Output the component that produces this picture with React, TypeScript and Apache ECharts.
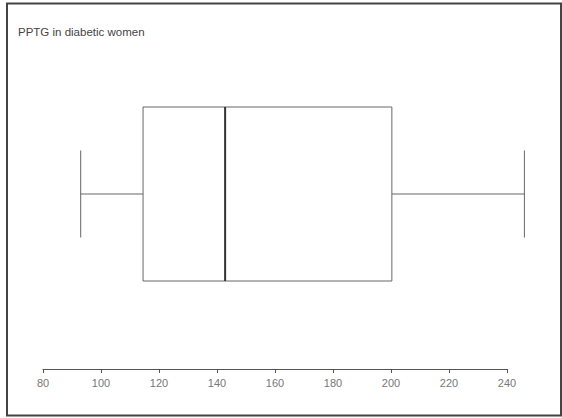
import React, { useEffect, useRef } from "react";
import * as echarts from "echarts";

const title = "PPTG in diabetic women";
const boxStats = [[93, 114.5, 142.8, 200.3, 246]]; // min, Q1, median, Q3, max
const axisTicks = [80, 100, 120, 140, 160, 180, 200, 220, 240];

export default function App() {
  const ref = useRef<HTMLDivElement>(null);
  useEffect(() => {
    const chart = echarts.init(ref.current!, null, { renderer: "svg" });
    chart.setOption({
      animation: false,
      backgroundColor: "#ffffff",
      title: {
        text: title,
        left: 18,
        top: 26,
        padding: 0,
        textStyle: { fontFamily: "Liberation Sans", fontSize: 11.5, fontWeight: "normal", color: "#444" },
      },
      graphic: [
        {
          type: "rect",
          shape: { x: 7, y: 3.5, width: 554, height: 412 },
          style: { fill: "none", stroke: "#444", lineWidth: 2 },
          silent: true,
        },
      ],
      grid: [
        { left: 43, right: 55, top: 300, height: 69 },
        { left: 43, right: 26, top: 107, height: 174 },
      ],
      xAxis: [
        {
          gridIndex: 0,
          type: "value",
          min: axisTicks[0],
          max: axisTicks[axisTicks.length - 1],
          interval: 20,
          position: "bottom",
          axisLine: { show: true, lineStyle: { color: "#555", width: 1 } },
          axisTick: { show: true, length: 4, lineStyle: { color: "#555" } },
          axisLabel: { color: "#777", fontSize: 11, fontFamily: "Liberation Sans", margin: 8 },
          splitLine: { show: false },
        },
        {
          gridIndex: 1,
          type: "value",
          min: 80,
          max: 250,
          show: false,
        },
      ],
      yAxis: [
        { gridIndex: 0, type: "value", show: false, min: 0, max: 1 },
        { gridIndex: 1, type: "value", show: false, min: 0, max: 1 },
      ],
      series: [
        {
          type: "custom",
          xAxisIndex: 1,
          yAxisIndex: 1,
          data: boxStats,
          renderItem: (params: any, api: any) => {
            const mn = api.value(0), q1 = api.value(1), md = api.value(2), q3 = api.value(3), mx = api.value(4);
            const pTL = api.coord([q1, 1]);
            const pBR = api.coord([q3, 0]);
            const mTop = api.coord([md, 1]);
            const mBot = api.coord([md, 0]);
            const wL = api.coord([mn, 0.5]);
            const wR = api.coord([mx, 0.5]);
            const capLT = api.coord([mn, 0.75]);
            const capLB = api.coord([mn, 0.25]);
            const capRT = api.coord([mx, 0.75]);
            const capRB = api.coord([mx, 0.25]);
            const stroke = { stroke: "#666", lineWidth: 1, fill: "none" };
            return {
              type: "group",
              children: [
                { type: "rect", shape: { x: pTL[0], y: pTL[1], width: pBR[0] - pTL[0], height: pBR[1] - pTL[1] }, style: { ...stroke } },
                { type: "line", shape: { x1: mTop[0], y1: mTop[1], x2: mBot[0], y2: mBot[1] }, style: { stroke: "#333", lineWidth: 2 } },
                { type: "line", shape: { x1: wL[0], y1: wL[1], x2: pTL[0], y2: wL[1] }, style: { ...stroke } },
                { type: "line", shape: { x1: pBR[0], y1: wR[1], x2: wR[0], y2: wR[1] }, style: { ...stroke } },
                { type: "line", shape: { x1: capLT[0], y1: capLT[1], x2: capLB[0], y2: capLB[1] }, style: { ...stroke } },
                { type: "line", shape: { x1: capRT[0], y1: capRT[1], x2: capRB[0], y2: capRB[1] }, style: { ...stroke } },
              ],
            };
          },
        },
      ],
    });
    return () => chart.dispose();
  }, []);
  return <div ref={ref} style={{ position: "fixed", left: 0, top: 0, width: 562, height: 418 }} />;
}
